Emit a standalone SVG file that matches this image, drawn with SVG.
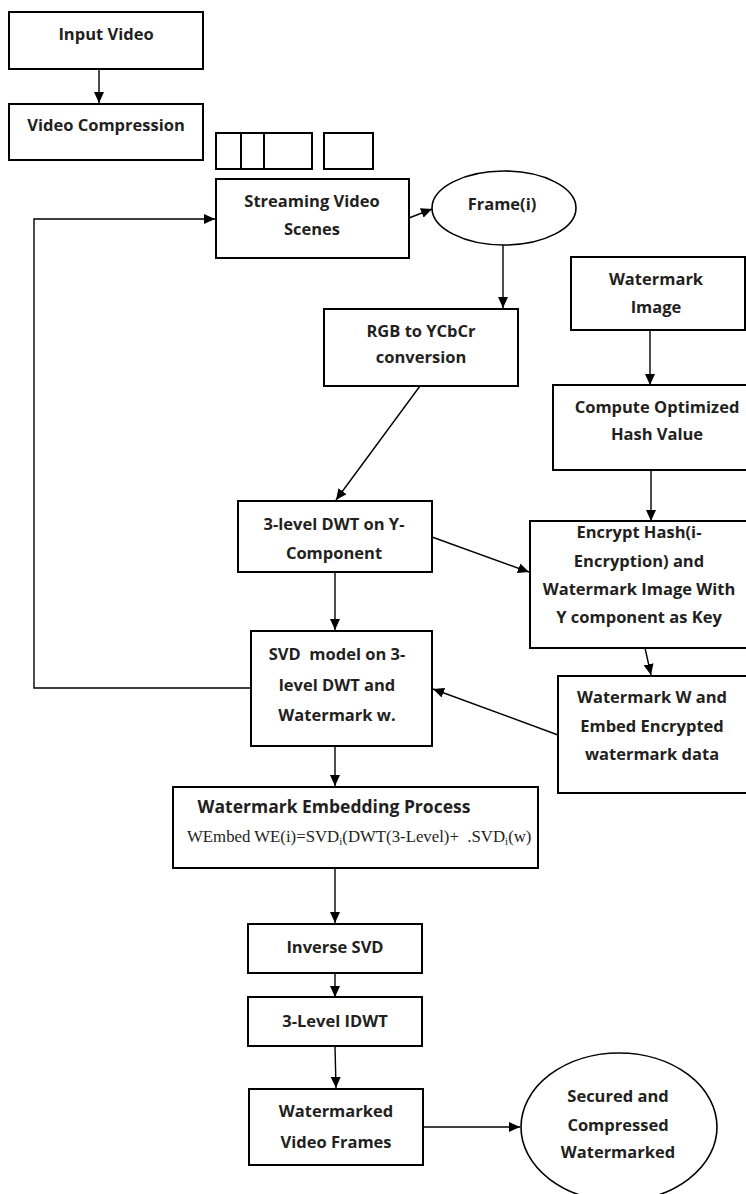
<svg xmlns="http://www.w3.org/2000/svg" width="746" height="1194" viewBox="0 0 746 1194">
<defs>
<marker id="ah" markerUnits="userSpaceOnUse" markerWidth="12" markerHeight="10" refX="11" refY="5" orient="auto">
<path d="M0,0 L11,5 L0,10 Z" fill="#000"/>
</marker>
<style>
.box{fill:#fff;stroke:#000;stroke-width:2}
.ell{fill:#fff;stroke:#000;stroke-width:1.6}
.t{font-family:"Open Sans","Liberation Sans",sans-serif;font-weight:bold;font-size:16.5px;fill:#231f20;text-anchor:middle}
.f{font-family:"Liberation Serif","Times New Roman",serif;font-size:16.8px;fill:#231f20}
.c{fill:none;stroke:#000;stroke-width:1.4}
</style>
</defs>
<rect width="746" height="1194" fill="#fff"/>

<g id="connectors">
<line class="c" x1="99" y1="69" x2="99" y2="103" marker-end="url(#ah)"/>
<line class="c" x1="409" y1="218" x2="432" y2="209" marker-end="url(#ah)"/>
<line class="c" x1="503" y1="245" x2="503" y2="308" marker-end="url(#ah)"/>
<line class="c" x1="650" y1="330" x2="650" y2="385" marker-end="url(#ah)"/>
<line class="c" x1="651" y1="470" x2="651" y2="521" marker-end="url(#ah)"/>
<line class="c" x1="420" y1="386" x2="336" y2="500" marker-end="url(#ah)"/>
<line class="c" x1="432" y1="537" x2="529" y2="572" marker-end="url(#ah)"/>
<line class="c" x1="335" y1="572" x2="335" y2="630" marker-end="url(#ah)"/>
<line class="c" x1="645" y1="648" x2="651" y2="675" marker-end="url(#ah)"/>
<line class="c" x1="558" y1="735" x2="433" y2="689" marker-end="url(#ah)"/>
<line class="c" x1="335" y1="746" x2="335" y2="786" marker-end="url(#ah)"/>
<line class="c" x1="335" y1="868" x2="335" y2="923" marker-end="url(#ah)"/>
<line class="c" x1="335" y1="973" x2="335" y2="997" marker-end="url(#ah)"/>
<line class="c" x1="335" y1="1046" x2="336" y2="1088" marker-end="url(#ah)"/>
<line class="c" x1="423" y1="1127" x2="520" y2="1127" marker-end="url(#ah)"/>
<polyline class="c" points="251,688 34,688 34,219 215,219" marker-end="url(#ah)"/>
</g>

<g id="input-video">
<rect class="box" x="9" y="12" width="194" height="57"/>
<text class="t" x="106" y="40">Input Video</text>
</g>

<g id="video-compression">
<rect class="box" x="9" y="104" width="194" height="56"/>
<text class="t" x="106" y="131">Video Compression</text>
</g>

<g id="frames-strip">
<rect class="box" x="216" y="133" width="96" height="36"/>
<line x1="241" y1="133" x2="241" y2="169" stroke="#000" stroke-width="2"/>
<line x1="264" y1="133" x2="264" y2="169" stroke="#000" stroke-width="2"/>
<rect class="box" x="324" y="133" width="49" height="36"/>
</g>

<g id="streaming-video-scenes">
<rect class="box" x="216" y="179" width="193" height="79"/>
<text class="t" x="312" y="207">Streaming Video</text>
<text class="t" x="312" y="235">Scenes</text>
</g>

<g id="frame-i">
<ellipse class="ell" cx="504" cy="208" rx="72" ry="37"/>
<text class="t" x="502" y="210">Frame(i)</text>
</g>

<g id="rgb-to-ycbcr">
<rect class="box" x="324" y="309" width="194" height="77"/>
<text class="t" x="421" y="337">RGB to YCbCr</text>
<text class="t" x="421" y="363">conversion</text>
</g>

<g id="watermark-image">
<rect class="box" x="571" y="257" width="174" height="73"/>
<text class="t" x="656" y="285">Watermark</text>
<text class="t" x="656" y="313">Image</text>
</g>

<g id="compute-hash">
<rect class="box" x="553" y="385" width="207" height="85"/>
<text class="t" x="657" y="413">Compute Optimized</text>
<text class="t" x="657" y="440">Hash Value</text>
</g>

<g id="dwt">
<rect class="box" x="238" y="501" width="194" height="71"/>
<text class="t" x="334" y="530">3-level DWT on Y-</text>
<text class="t" x="334" y="559">Component</text>
</g>

<g id="encrypt">
<rect class="box" x="530" y="521" width="230" height="127"/>
<text class="t" x="639" y="538">Encrypt Hash(i-</text>
<text class="t" x="639" y="567">Encryption) and</text>
<text class="t" x="639" y="595">Watermark Image With</text>
<text class="t" x="639" y="623">Y component as Key</text>
</g>

<g id="svd-model">
<rect class="box" x="251" y="631" width="181" height="115"/>
<text class="t" x="337" y="660" xml:space="preserve">SVD  model on 3-</text>
<text class="t" x="337" y="691">level DWT and</text>
<text class="t" x="337" y="721">Watermark w.</text>
</g>

<g id="watermark-w">
<rect class="box" x="558" y="676" width="202" height="117"/>
<text class="t" x="652" y="703">Watermark W and</text>
<text class="t" x="652" y="732">Embed Encrypted</text>
<text class="t" x="652" y="760">watermark data</text>
</g>

<g id="embedding">
<rect class="box" x="173" y="787" width="365" height="81"/>
<text class="t" x="334" y="813" style="font-size:17.5px">Watermark Embedding Process</text>
<text class="f" x="187" y="842" xml:space="preserve">WEmbed WE(i)=SVD<tspan font-size="11" dy="3">i</tspan><tspan dy="-3">(DWT(3-Level)+  .SVD</tspan><tspan font-size="11" dy="3">i</tspan><tspan dy="-3">(w)</tspan></text>
</g>

<g id="inverse-svd">
<rect class="box" x="248" y="924" width="174" height="49"/>
<text class="t" x="335" y="953">Inverse SVD</text>
</g>

<g id="idwt">
<rect class="box" x="248" y="997" width="174" height="49"/>
<text class="t" x="335" y="1027">3-Level IDWT</text>
</g>

<g id="watermarked-frames">
<rect class="box" x="249" y="1089" width="174" height="76"/>
<text class="t" x="336" y="1117">Watermarked</text>
<text class="t" x="336" y="1148">Video Frames</text>
</g>

<g id="secured-output">
<ellipse class="ell" cx="619" cy="1127" rx="98" ry="74"/>
<text class="t" x="618" y="1102">Secured and</text>
<text class="t" x="618" y="1131">Compressed</text>
<text class="t" x="618" y="1158">Watermarked</text>
</g>
</svg>
